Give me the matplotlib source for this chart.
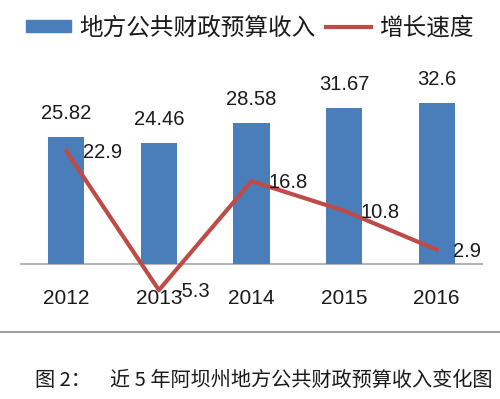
import matplotlib
matplotlib.use('Agg')
import matplotlib.pyplot as plt
from matplotlib.patches import Patch
from matplotlib.lines import Line2D

years = ['2012', '2013', '2014', '2015', '2016']
revenue = [25.82, 24.46, 28.58, 31.67, 32.6]
growth = [22.9, -5.3, 16.8, 10.8, 2.9]
revenue_labels = ['25.82', '24.46', '28.58', '31.67', '32.6']
growth_labels = ['22.9', '-5.3', '16.8', '10.8', '2.9']
legend_labels = ['地方公共财政预算收入', '增长速度']
caption_prefix = '图 2：'
caption = '近 5 年阿坝州地方公共财政预算收入变化图'

plt.rcParams['font.family'] = ['Liberation Sans', 'Noto Sans CJK SC', 'DejaVu Sans']

BLUE = '#4a7ebb'
RED = '#be4b48'
TXT = '#1a1a1a'

W, H = 500, 399
fig = plt.figure(figsize=(W / 100, H / 100), dpi=100)
scale = 4.93
base = 264
ymin, ymax = -3, 38
left, right = 20, 483
bottom_px = base + (-ymin) * scale
top_px = base - ymax * scale
ax = fig.add_axes([left / W, 1 - bottom_px / H, (right - left) / W, (bottom_px - top_px) / H])

x = list(range(len(years)))
ax.bar(x, revenue, width=0.39, color=BLUE, zorder=2)
ax.set_xlim(-0.5, len(years) - 0.5)
ax.set_ylim(ymin, ymax)
ax.axhline(0, color='#b4b4b4', lw=1.5, zorder=1)
ax.plot(x, growth, color=RED, lw=3, clip_on=False, zorder=3)

for i, (v, lab) in enumerate(zip(revenue, revenue_labels)):
    ax.annotate(lab, (i, v), xytext=(0, 17), textcoords='offset points',
                ha='center', va='center', fontsize=14.5, color=TXT,
                annotation_clip=False)
for i, (v, lab) in enumerate(zip(growth, growth_labels)):
    ax.annotate(lab, (i, v), xytext=(12, -1), textcoords='offset points',
                ha='left', va='center', fontsize=14.5, color=TXT, zorder=4,
                annotation_clip=False)

ax.set_xticks(x, years)
ax.tick_params(axis='x', length=0, pad=7, labelsize=15, labelcolor=TXT)
ax.set_yticks([])
for s in ax.spines.values():
    s.set_visible(False)

fig.add_artist(Line2D([0, 1], [1 - 332 / H] * 2, color='#a0a0a0', lw=1.5,
                      transform=fig.transFigure))

handles = [Patch(color=BLUE), Line2D([], [], color=RED, lw=3)]
fig.legend(handles=handles, labels=legend_labels, loc='center',
           bbox_to_anchor=(0.5, 1 - 28 / H), ncol=2, frameon=False,
           prop={'family': ['Noto Sans CJK SC'], 'size': 17},
           handlelength=1.9, handleheight=0.42, handletextpad=0.35,
           columnspacing=0.45, borderpad=0, labelcolor=TXT)

fig.text(35 / W, 1 - 380 / H, caption_prefix, ha='left', va='center',
         fontsize=14.5, color=TXT, family=['Noto Sans CJK SC'])
fig.text(110 / W, 1 - 380 / H, caption, ha='left', va='center',
         fontsize=14.5, color=TXT, family=['Noto Sans CJK SC'])

fig.savefig('out.png', dpi=100, facecolor='white')
